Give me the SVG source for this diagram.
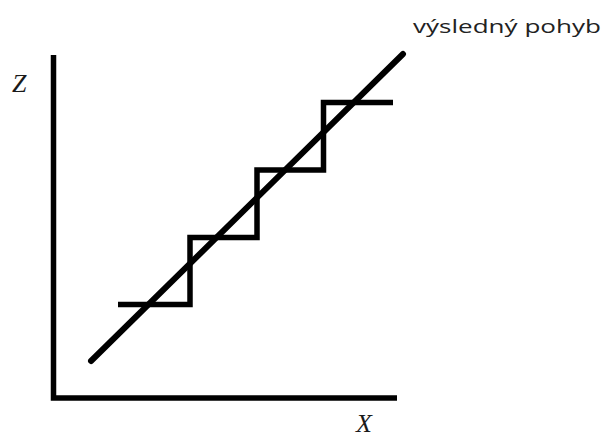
<svg xmlns="http://www.w3.org/2000/svg" width="604" height="439" viewBox="0 0 604 439">
<style>
.ln{fill:none;stroke:#000;stroke-width:5.5}
.lbl{font-family:"Liberation Serif","DejaVu Serif",serif;font-style:italic;font-size:26px;fill:#1a1a1a}
.cap{font-family:"Open Sans","Noto Sans",sans-serif;font-size:19px;fill:#222}
</style>
<rect width="604" height="439" fill="#fff"/>
<g id="axes">
<polyline class="ln" points="53.5,55 53.5,398 397,398"/>
</g>
<g id="labels">
<text class="lbl" x="12" y="92">Z</text>
<text class="lbl" x="356" y="432">X</text>
<text class="cap" x="413" y="33" textLength="188" lengthAdjust="spacingAndGlyphs">výsledný pohyb</text>
</g>
<g id="connectors">
<polyline class="ln" points="118,304.5 190,304.5 190,237.5 257,237.5 257,170 323.5,170 323.5,102.5 393,102.5"/>
<line x1="91" y1="361" x2="403" y2="54" stroke="#000" stroke-width="6" stroke-linecap="round"/>
</g>
</svg>
